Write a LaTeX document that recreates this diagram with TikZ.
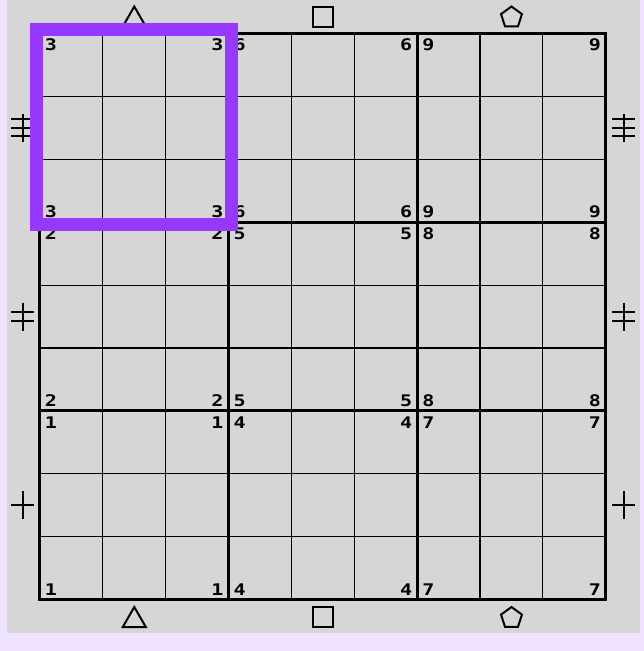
\documentclass[tikz,border=0pt]{standalone}
\usepackage{graphicx}
\usepackage{fontspec}
\newfontfamily\digitfont{DejaVu Sans Mono Bold}
\definecolor{outerbg}{HTML}{F0E2FF}
\definecolor{panel}{HTML}{D6D6D6}
\definecolor{purp}{HTML}{9638FF}
\begin{document}
\begin{tikzpicture}[x=1pt,y=-1pt,
  thinline/.style={line width=1.1pt,black},
  thickline/.style={line width=3pt,black},
  sym/.style={line width=2pt,black},
  dig/.style={inner sep=0pt,outer sep=0pt,font=\digitfont\fontsize{16}{16}\selectfont},
  hilite/.style={line width=13pt,purp}]
\fill[outerbg] (0,0) rectangle (644,651);
\useasboundingbox (0,0) rectangle (644,651);
\fill[panel] (7,0) rectangle (640,633);
\def\gx{39.7}\def\gy{33.5}\def\cs{62.9}
% thin lines
\foreach \i in {1,2,4,5,7,8}{
  \draw[thinline] ({\gx+\i*\cs},\gy) -- ({\gx+\i*\cs},{\gy+9*\cs});
  \draw[thinline] (\gx,{\gy+\i*\cs}) -- ({\gx+9*\cs},{\gy+\i*\cs});
}
% thick lines
\foreach \i in {3,6}{
  \draw[thickline] ({\gx+\i*\cs},\gy) -- ({\gx+\i*\cs},{\gy+9*\cs});
  \draw[thickline] (\gx,{\gy+\i*\cs}) -- ({\gx+9*\cs},{\gy+\i*\cs});
}
\draw[thickline] (\gx,\gy) rectangle ({\gx+9*\cs},{\gy+9*\cs});
% corner digits
\foreach \r in {0,1,2}{
  \foreach \c in {0,1,2}{
    \pgfmathtruncatemacro\n{3*\c+3-\r}
    \pgfmathsetmacro\xl{\gx+3*\c*\cs+5.3}
    \pgfmathsetmacro\xr{\gx+3*(\c+1)*\cs-5}
    \pgfmathsetmacro\yt{\gy+3*\r*\cs+5.5}
    \pgfmathsetmacro\yb{\gy+3*(\r+1)*\cs-4.3}
    \node[dig,anchor=north west] (d\n-tl) at (\xl,\yt) {\scalebox{1.25}[1]{\n}};
    \node[dig,anchor=north east] (d\n-tr) at (\xr,\yt) {\scalebox{1.25}[1]{\n}};
    \node[dig,anchor=south west] (d\n-bl) at (\xl,\yb) {\scalebox{1.25}[1]{\n}};
    \node[dig,anchor=south east] (d\n-br) at (\xr,\yb) {\scalebox{1.25}[1]{\n}};
  }
}
% row symbols
\foreach \sx in {22.5,623.5}{
  % top row: three bars
  \draw[sym] (\sx,113.8) -- (\sx,141.8);
  \foreach \dy in {-8.5,0,8.5}{\draw[sym] ({\sx-11.5},{127.8+\dy}) -- ({\sx+11.5},{127.8+\dy});}
  % middle row: two bars
  \draw[sym] (\sx,302.5) -- (\sx,330.5);
  \foreach \dy in {-4.5,4.5}{\draw[sym] ({\sx-11.5},{316.5+\dy}) -- ({\sx+11.5},{316.5+\dy});}
  % bottom row: one bar
  \draw[sym] (\sx,491.2) -- (\sx,519.2);
  \draw[sym] ({\sx-11.5},505.2) -- ({\sx+11.5},505.2);
}
% column symbols
\foreach \sy in {16.5,617}{
  \draw[sym] (134.3,{\sy-10}) -- (145.8,{\sy+10}) -- (122.8,{\sy+10}) -- cycle;
  \draw[sym] (312.8,{\sy-10}) rectangle (332.8,{\sy+10});
  \draw[sym,shift={(511.5,{\sy+1})}] (-90:11) -- (-18:11) -- (54:11) -- (126:11) -- (198:11) -- cycle;
}
% highlight
\draw[hilite] (36.5,29.5) rectangle (231.5,224.5);
\end{tikzpicture}
\end{document}
